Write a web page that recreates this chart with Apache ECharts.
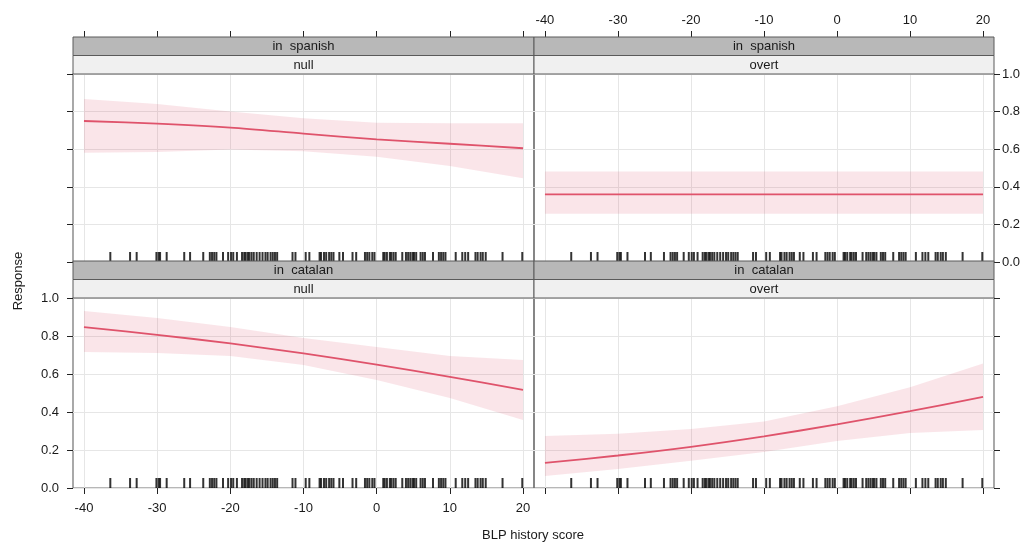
<!DOCTYPE html>
<html><head><meta charset="utf-8">
<script src="https://cdn.jsdelivr.net/npm/echarts@6/dist/echarts.min.js"></script>
<style>html,body{margin:0;padding:0;background:#fff}#c{width:1032px;height:542px}</style>
</head><body><div id="c"></div>
<script>
// ---------- data ----------
const xPoints = [-40, -30, -20, -10, 0, 10, 20];
const xTickValues = [-40, -30, -20, -10, 0, 10, 20];

const spanishNullFit   = [0.750, 0.736, 0.715, 0.683, 0.652, 0.629, 0.605];
const spanishNullLower = [0.581, 0.585, 0.599, 0.589, 0.560, 0.511, 0.445];
const spanishNullUpper = [0.867, 0.840, 0.800, 0.764, 0.741, 0.738, 0.738];

const spanishOvertFit   = [0.360, 0.360, 0.360, 0.360, 0.360, 0.360, 0.360];
const spanishOvertLower = [0.257, 0.257, 0.257, 0.257, 0.257, 0.257, 0.257];
const spanishOvertUpper = [0.482, 0.482, 0.482, 0.482, 0.482, 0.482, 0.482];

const catalanNullFit   = [0.847, 0.806, 0.761, 0.708, 0.649, 0.585, 0.516];
const catalanNullLower = [0.716, 0.710, 0.695, 0.647, 0.568, 0.474, 0.358];
const catalanNullUpper = [0.932, 0.895, 0.847, 0.790, 0.742, 0.695, 0.674];

const catalanOvertFit   = [0.132, 0.171, 0.217, 0.272, 0.335, 0.405, 0.479];
const catalanOvertLower = [0.063, 0.100, 0.144, 0.190, 0.247, 0.290, 0.305];
const catalanOvertUpper = [0.274, 0.285, 0.310, 0.350, 0.430, 0.530, 0.655];

const rugScores = [-36.4, -33.7, -32.8, -30.1, -29.8, -29.6, -28.7, -26.3, -25.5, -23.7,
  -22.8, -22.5, -22.2, -21.9, -21.0, -20.3, -19.9, -19.6, -19.1, -18.4, -18.1, -17.9,
  -17.6, -17.4, -17.1, -16.8, -16.4, -16.0, -15.6, -15.2, -14.9, -14.5, -14.2, -13.9,
  -13.6, -11.5, -11.1, -9.7, -9.2, -7.8, -7.6, -7.2, -6.9, -6.5, -6.2, -5.9, -5.1, -4.6,
  -3.3, -2.8, -1.6, -1.3, -1.0, -0.6, -0.3, 0.9, 1.1, 1.4, 1.8, 2.0, 2.3, 2.6, 3.5, 4.0,
  4.3, 4.6, 4.9, 5.1, 5.4, 6.0, 6.3, 6.6, 7.7, 8.5, 8.8, 9.1, 9.4, 10.8, 11.7, 12.1,
  12.5, 13.5, 13.8, 14.2, 14.5, 14.9, 17.2, 19.9];

const stripOuter = ['in  spanish', 'in  spanish', 'in  catalan', 'in  catalan'];
const stripInner = ['null', 'overt', 'null', 'overt'];
const xTitle = 'BLP history score';
const yTitle = 'Response';

// ---------- layout / style ----------
const panels = [
  {fit: spanishNullFit, lo: spanishNullLower, hi: spanishNullUpper},
  {fit: spanishOvertFit, lo: spanishOvertLower, hi: spanishOvertUpper},
  {fit: catalanNullFit, lo: catalanNullLower, hi: catalanNullUpper},
  {fit: catalanOvertFit, lo: catalanOvertLower, hi: catalanOvertUpper}
];
const boxes = [
  {left: 73, top: 74, width: 461, height: 188},
  {left: 534, top: 74, width: 460, height: 188},
  {left: 73, top: 298, width: 461, height: 190},
  {left: 534, top: 298, width: 460, height: 190}
];
const FONT = '"Liberation Sans", Arial, sans-serif';
const lineColor = '#df536b';
const bandColor = 'rgba(223,83,107,0.15)';
const gridColor = '#e6e6e6';
const frameColor = '#707070';
const textColor = '#1a1a1a';

const grids = boxes.map(b => ({left: b.left, top: b.top, width: b.width, height: b.height,
  show: true, borderColor: frameColor, borderWidth: 1.2, backgroundColor: 'transparent'}));

const xAxes = boxes.map((b, i) => ({
  type: 'value', gridIndex: i, min: -41.5, max: 21.5,
  position: i < 2 ? 'top' : 'bottom',
  offset: i < 2 ? 37 : 0,
  axisLine: {show: false, onZero: false},
  axisTick: {show: true, length: 6, customValues: xTickValues, lineStyle: {color: '#222', width: 1}},
  axisLabel: {show: i === 1 || i === 2, customValues: xTickValues, color: textColor,
    fontFamily: FONT, fontSize: 13, margin: i < 2 ? 10 : 14},
  splitLine: {show: true, lineStyle: {color: gridColor, width: 1}}
}));
const yAxes = boxes.map((b, i) => ({
  type: 'value', gridIndex: i, min: 0, max: 1, interval: 0.2,
  position: (i === 0 || i === 2) ? 'left' : 'right',
  axisLine: {show: false, onZero: false},
  axisTick: {show: true, length: 6, lineStyle: {color: '#222', width: 1}},
  axisLabel: {show: i === 1 || i === 2, color: textColor, fontFamily: FONT, fontSize: 13,
    margin: (i === 2) ? 14 : 8, formatter: v => v.toFixed(1)},
  splitLine: {show: true, lineStyle: {color: gridColor, width: 1}}
}));

function bandRenderer(params, api) {
  if (params.dataIndexInside !== 0) return null;
  const n = params.dataInsideLength;
  const up = [], down = [];
  for (let k = 0; k < n; k++) {
    const x = api.value(0, k);
    up.push(api.coord([x, api.value(2, k)]));
    down.push(api.coord([x, api.value(1, k)]));
  }
  return {type: 'polygon', shape: {points: up.concat(down.reverse())},
    style: {fill: bandColor}, silent: true};
}

const series = [];
panels.forEach((p, i) => {
  series.push({
    type: 'custom', xAxisIndex: i, yAxisIndex: i, renderItem: bandRenderer, silent: true,
    encode: {x: 0, y: [1, 2]}, z: 1,
    data: xPoints.map((x, k) => [x, p.lo[k], p.hi[k]])
  });
  series.push({
    type: 'line', xAxisIndex: i, yAxisIndex: i, symbol: 'none', smooth: 0.3, z: 3,
    lineStyle: {color: lineColor, width: 1.8}, silent: true,
    data: xPoints.map((x, k) => [x, p.fit[k]])
  });
  series.push({
    type: 'scatter', xAxisIndex: i, yAxisIndex: i, symbol: 'rect', z: 4,
    symbolSize: [2, 10], symbolOffset: [0, -5], clip: false, silent: true,
    itemStyle: {color: '#000'},
    data: rugScores.map(v => [v, 0])
  });
});

const graphics = [];
boxes.forEach((b, i) => {
  graphics.push({type: 'rect', shape: {x: b.left, y: b.top - 37, width: b.width, height: 18.5},
    style: {fill: '#b8b8b8', stroke: '#5a5a5a', lineWidth: 1}, z: 10});
  graphics.push({type: 'rect', shape: {x: b.left, y: b.top - 18.5, width: b.width, height: 18.5},
    style: {fill: '#f0f0f0', stroke: '#5a5a5a', lineWidth: 1}, z: 10});
  graphics.push({type: 'text', x: b.left + b.width / 2, y: b.top - 27.5,
    style: {text: stripOuter[i], fill: textColor, font: '13px ' + FONT, align: 'center', verticalAlign: 'middle'}, z: 11});
  graphics.push({type: 'text', x: b.left + b.width / 2, y: b.top - 9,
    style: {text: stripInner[i], fill: textColor, font: '13px ' + FONT, align: 'center', verticalAlign: 'middle'}, z: 11});
});
graphics.push({type: 'text', x: 533, y: 535,
  style: {text: xTitle, fill: textColor, font: '13px ' + FONT, align: 'center', verticalAlign: 'middle'}});
graphics.push({type: 'text', x: 18, y: 281, rotation: Math.PI / 2,
  style: {text: yTitle, fill: textColor, font: '13px ' + FONT, align: 'center', verticalAlign: 'middle'}});

const chart = echarts.init(document.getElementById('c'), null, {renderer: 'canvas'});
chart.setOption({
  animation: false,
  backgroundColor: '#fff',
  grid: grids, xAxis: xAxes, yAxis: yAxes, series: series, graphic: graphics
});
</script></body></html>
